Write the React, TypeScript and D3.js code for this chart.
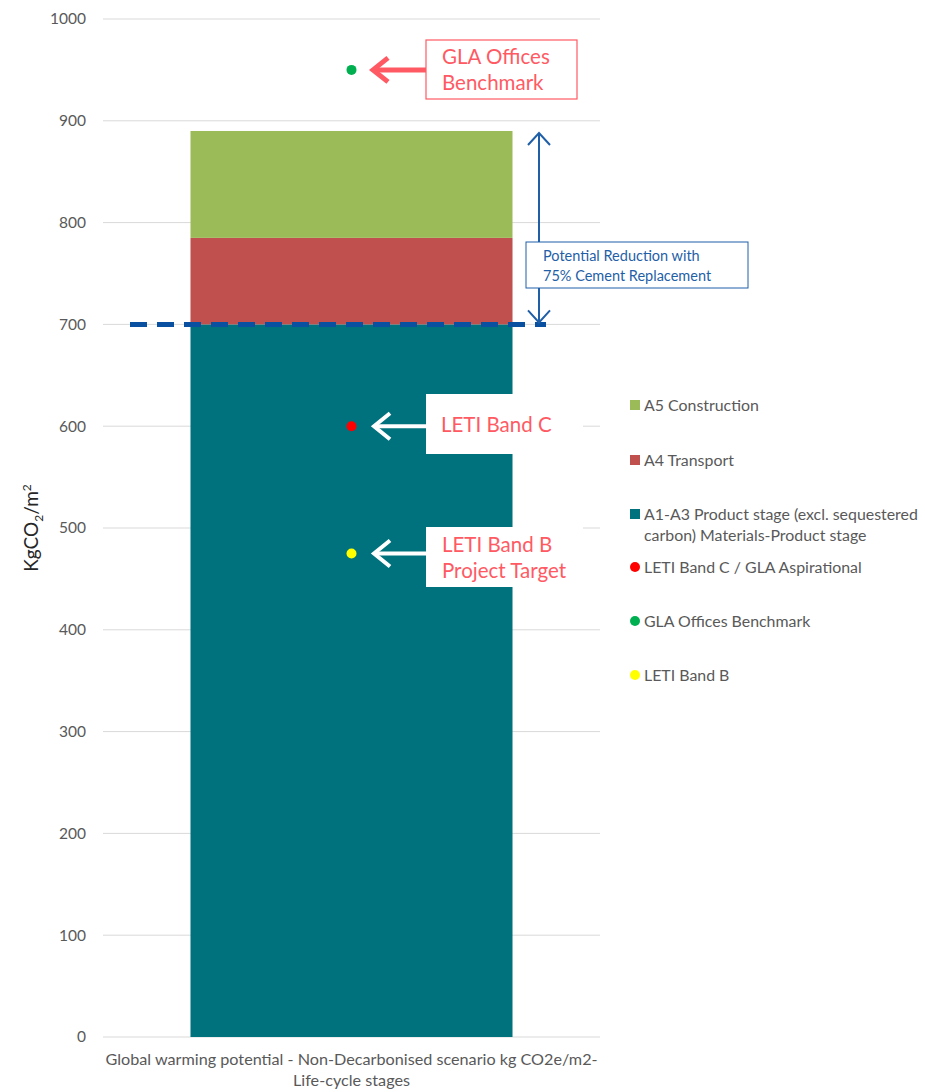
import React from "react";
import * as d3 from "d3";

const categories = ["Global warming potential - Non-Decarbonised scenario kg CO2e/m2-", "Life-cycle stages"];
const stackSeries = ["A1-A3 Product stage", "A4 Transport", "A5 Construction"];
const stackValues = [700, 85, 105];
const stackColors = ["#00727d", "#c0504d", "#9bbb59"];
const pointNames = ["GLA Offices Benchmark", "LETI Band C / GLA Aspirational", "LETI Band B"];
const pointValues = [950, 600, 475];
const pointColors = ["#00b050", "#ff0000", "#ffff00"];
const yTicks = [0, 100, 200, 300, 400, 500, 600, 700, 800, 900, 1000];
const reductionLevel = 700;
const legendItems = [
  { label: ["A5 Construction"], color: "#9bbb59", shape: "rect" },
  { label: ["A4 Transport"], color: "#c0504d", shape: "rect" },
  { label: ["A1-A3 Product stage (excl. sequestered", "carbon) Materials-Product stage"], color: "#00727d", shape: "rect" },
  { label: ["LETI Band C / GLA Aspirational"], color: "#ff0000", shape: "circle" },
  { label: ["GLA Offices Benchmark"], color: "#00b050", shape: "circle" },
  { label: ["LETI Band B"], color: "#ffff00", shape: "circle" },
];
const legendY = [405, 460, 514, 567, 621, 675];

const W = 925, H = 1092;
const PINK = "#ff5a63";
const BLUE = "#1f5fa8";
const GRAY = "#595959";
const FONT = "Lato, 'Open Sans', sans-serif";

export default function App() {
  const y = d3.scaleLinear().domain([0, 1000]).range([1037, 19]);
  const x = d3.scaleBand().domain(["c"]).range([103, 600]).paddingInner(0).paddingOuter(0.2717);
  const bx = x("c")!;
  const bw = x.bandwidth();
  const cx = bx + bw / 2;
  const stack = d3.stack<any>().keys(stackSeries)([Object.fromEntries(stackSeries.map((k, i) => [k, stackValues[i]]))]);
  const total = d3.sum(stackValues);

  const arrowX = 539;
  const yTop = y(total) + 2;
  const yBot = y(reductionLevel) - 2;

  return (
    <svg width={W} height={H} style={{ position: "absolute", left: 0, top: 0, background: "#fff" }} fontFamily={FONT}>
      {yTicks.map((t) => (
        <line key={t} x1={103} x2={600} y1={y(t)} y2={y(t)} stroke="#d9d9d9" strokeWidth={1} />
      ))}
      {yTicks.map((t) => (
        <text key={"l" + t} x={86} y={y(t)} dy="0.35em" textAnchor="end" fontSize={15.5} fill={GRAY}>{t}</text>
      ))}
      {stack.map((s, i) => (
        <rect key={s.key} x={bx} width={bw} y={y(s[0][1])} height={y(s[0][0]) - y(s[0][1])} fill={stackColors[i]} />
      ))}
      <line x1={130} x2={546} y1={y(reductionLevel)} y2={y(reductionLevel)} stroke="#0a50a0" strokeWidth={5} strokeDasharray="17 10" />
      <line x1={arrowX} x2={arrowX} y1={yTop} y2={yBot} stroke={BLUE} strokeWidth={2} />
      <polyline points={`${arrowX - 11},${yTop + 12} ${arrowX},${yTop} ${arrowX + 11},${yTop + 12}`} fill="none" stroke={BLUE} strokeWidth={2} />
      <polyline points={`${arrowX - 11},${yBot - 12} ${arrowX},${yBot} ${arrowX + 11},${yBot - 12}`} fill="none" stroke={BLUE} strokeWidth={2} />
      <rect x={526} y={242} width={222} height={46} fill="#fff" stroke={BLUE} strokeWidth={1} />
      <text x={543} y={261} fontSize={14.5} fill={BLUE}>Potential Reduction with</text>
      <text x={543} y={281} fontSize={14.5} fill={BLUE}>75% Cement Replacement</text>

      <rect x={426} y={40} width={151} height={59} fill="#fff" stroke={PINK} strokeWidth={1.2} />
      <text x={442} y={64} fontSize={20.5} fill={PINK}>GLA Offices</text>
      <text x={442} y={90} fontSize={20.5} fill={PINK}>Benchmark</text>
      <line x1={426} x2={373} y1={y(950)} y2={y(950)} stroke={PINK} strokeWidth={5} />
      <polyline points={`${388},${y(950) - 12} ${373},${y(950)} ${388},${y(950) + 12}`} fill="none" stroke={PINK} strokeWidth={5} />

      <rect x={426} y={394} width={157} height={60} fill="#fff" />
      <text x={441} y={432} fontSize={20.5} fill={PINK}>LETI Band C</text>
      <line x1={426} x2={374} y1={y(600)} y2={y(600)} stroke="#fff" strokeWidth={4} />
      <polyline points={`${390},${y(600) - 13} ${374},${y(600)} ${390},${y(600) + 13}`} fill="none" stroke="#fff" strokeWidth={4} />

      <rect x={426} y={527} width={157} height={60} fill="#fff" />
      <text x={442} y={552} fontSize={20.5} fill={PINK}>LETI Band B</text>
      <text x={442} y={578} fontSize={20.5} fill={PINK}>Project Target</text>
      <line x1={426} x2={374} y1={y(475)} y2={y(475)} stroke="#fff" strokeWidth={4} />
      <polyline points={`${390},${y(475) - 13} ${374},${y(475)} ${390},${y(475) + 13}`} fill="none" stroke="#fff" strokeWidth={4} />

      {pointValues.map((v, i) => (
        <circle key={pointNames[i]} cx={cx} cy={y(v)} r={5} fill={pointColors[i]} />
      ))}

      <text x={cx} y={1065} textAnchor="middle" fontSize={16.2} fill={GRAY}>{categories[0]}</text>
      <text x={cx} y={1086} textAnchor="middle" fontSize={16.2} fill={GRAY}>{categories[1]}</text>

      <text transform={`translate(38,528) rotate(-90)`} textAnchor="middle" fontSize={19} fill="#262626">
        KgCO<tspan fontSize={12} dy={5}>2</tspan><tspan dy={-5}>/m</tspan><tspan fontSize={12} dy={-7}>2</tspan>
      </text>

      {legendItems.map((it, i) => (
        <g key={i}>
          {it.shape === "rect" ? (
            <rect x={630} y={legendY[i] - 5} width={10} height={10} fill={it.color} />
          ) : (
            <circle cx={635} cy={legendY[i]} r={5} fill={it.color} />
          )}
          {it.label.map((l, j) => (
            <text key={j} x={644} y={legendY[i] + j * 21} dy="0.35em" fontSize={15.9} fill={GRAY}>{l}</text>
          ))}
        </g>
      ))}
    </svg>
  );
}
